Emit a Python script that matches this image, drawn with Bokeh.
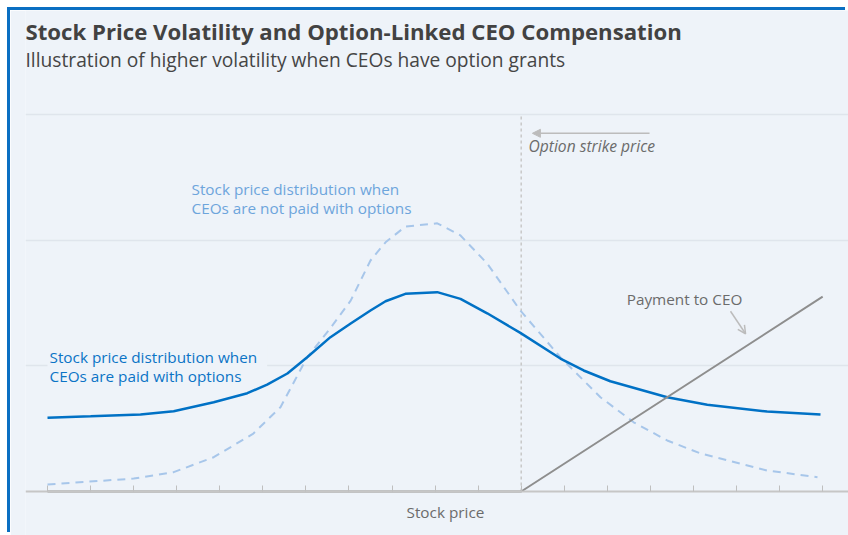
from bokeh.plotting import figure
from bokeh.models import Range1d, FixedTicker, Label, Arrow, NormalHead, OpenHead, Grid
from bokeh.embed import file_html
from bokeh.resources import INLINE

# ---------------- data ----------------
price_ticks = list(range(19))
strike_price = 11
grid_levels = [1, 2, 3]

with_options_x = [0, 1.0, 2.16, 2.93, 3.86, 4.64, 5.10, 5.57, 6.03, 6.57, 7.04, 7.50, 7.85,
                  8.31, 9.05, 9.59, 10.21, 10.98, 11.91, 12.45, 13.07, 14.39, 15.32, 16.71, 17.95]
with_options_y = [0.586, 0.598, 0.613, 0.639, 0.710, 0.782, 0.851, 0.939, 1.068, 1.228, 1.337,
                  1.440, 1.514, 1.573, 1.586, 1.533, 1.418, 1.262, 1.058, 0.963, 0.877, 0.750,
                  0.690, 0.636, 0.613]

no_options_x = [0, 2.0, 2.93, 3.86, 4.78, 5.41, 6.03, 6.57, 7.04, 7.50, 7.85, 8.31, 9.05, 9.59,
                10.21, 10.98, 11.91, 12.84, 13.61, 14.39, 15.17, 16.71, 17.88]
no_options_y = [0.056, 0.103, 0.154, 0.273, 0.461, 0.671, 1.068, 1.300, 1.519, 1.838, 1.983,
                2.108, 2.134, 2.037, 1.814, 1.440, 1.068, 0.750, 0.551, 0.406, 0.302, 0.167, 0.114]

payment_x = [0, strike_price, 18]
payment_y = [0, 0, 1.55]

strike_x = [strike_price, strike_price]
strike_y = [0, 3]

# ---------------- style ----------------
FONT = "Open Sans"
BG = "#eef3f9"
GRID = "#dfe5ec"
BLUE_BORDER = "#0a6fc2"
SOLID = "#0071c5"
DASHED = "#a7c6ea"
DASHED_LABEL = "#6da5dc"
SOLID_LABEL = "#0b74c6"
GRAY_TEXT = "#6b6b6b"
PAY = "#8e8e8e"
LBL = "15.3px"

p = figure(width=838, height=525,
           x_range=Range1d(-0.511, 18.60), y_range=Range1d(-0.350, 3.827),
           output_backend="svg", toolbar_location=None,
           y_axis_location=None,
           min_border_left=15, min_border_right=0, min_border_top=0, min_border_bottom=0)
p.background_fill_color = BG
p.border_fill_color = BG
p.outline_line_color = None
p.styles = {"margin-left": "10px", "margin-top": "10px",
            "box-shadow": f"-3px -3px 0px 0px {BLUE_BORDER}"}
p.xgrid.grid_line_color = None
p.ygrid.grid_line_color = None

p.add_layout(Grid(dimension=1, ticker=FixedTicker(ticks=grid_levels),
                  grid_line_color=GRID, grid_line_width=1.5))

ax = p.xaxis[0]
ax.fixed_location = 0
ax.ticker = FixedTicker(ticks=price_ticks)
ax.major_label_overrides = {t: "" for t in price_ticks}
ax.major_label_text_font_size = "0px"
ax.major_label_standoff = 0
ax.major_tick_in = 6
ax.major_tick_out = 0
ax.minor_tick_line_color = None
ax.axis_line_color = "#c6c6c6"
ax.axis_line_width = 2
ax.major_tick_line_color = "#bfbfbf"
ax.major_tick_line_width = 1

# label behind curves (masks the grid line only)
p.add_layout(Label(x=0.0, y=0.962,
                   text="Stock price distribution when\nCEOs are paid with options",
                   text_font=FONT, text_font_size=LBL, text_color=SOLID_LABEL,
                   text_baseline="middle", text_align="left", text_line_height=0.96,
                   background_fill_color=BG, padding=(2, 10, 2, 10), level="underlay"))

# strike line
p.line(strike_x, strike_y, line_color="#c8c8c8", line_width=1.5, line_dash="3 3")

# curves
p.line(no_options_x, no_options_y, line_color=DASHED, line_width=2, line_dash="8 6")
p.line(with_options_x, with_options_y, line_color=SOLID, line_width=2.5)
p.line(payment_x, payment_y, line_color=PAY, line_width=2)

# titles
p.add_layout(Label(x=-0.511, y=3.66, text="Stock Price Volatility and Option-Linked CEO Compensation",
                   text_font=FONT, text_font_size="22.2px", text_font_style="bold",
                   text_color="#424242", text_baseline="middle", text_align="left"))
p.add_layout(Label(x=-0.511, y=3.437, text="Illustration of higher volatility when CEOs have option grants",
                   text_font=FONT, text_font_size="19.2px",
                   text_color="#454545", text_baseline="middle", text_align="left"))

# annotations
p.add_layout(Arrow(end=NormalHead(size=8, fill_color="#bcbcbc", line_color="#bcbcbc"),
                   x_start=13.98, y_start=2.85, x_end=11.26, y_end=2.85,
                   line_color="#bcbcbc", line_width=1.5))
p.add_layout(Label(x=11.17, y=2.745, text="Option strike price", text_font=FONT,
                   text_font_size="15.6px", text_font_style="italic", text_color=GRAY_TEXT,
                   text_baseline="middle", text_align="left"))

p.add_layout(Label(x=13.45, y=1.535, text="Payment to CEO", text_font=FONT,
                   text_font_size=LBL, text_color=GRAY_TEXT,
                   text_baseline="middle", text_align="left"))
p.add_layout(Arrow(end=OpenHead(size=8, line_color="#bcbcbc", line_width=1.5),
                   x_start=15.86, y_start=1.434, x_end=16.21, y_end=1.255,
                   line_color="#bcbcbc", line_width=1.5))

p.add_layout(Label(x=3.344, y=2.331,
                   text="Stock price distribution when\nCEOs are not paid with options",
                   text_font=FONT, text_font_size=LBL, text_color=DASHED_LABEL,
                   text_baseline="middle", text_align="left", text_line_height=0.96))

p.add_layout(Label(x=9.24, y=-0.167, text="Stock price", text_font=FONT,
                   text_font_size=LBL, text_color=GRAY_TEXT,
                   text_baseline="middle", text_align="center"))

open("out.html", "w").write(file_html(p, INLINE))
